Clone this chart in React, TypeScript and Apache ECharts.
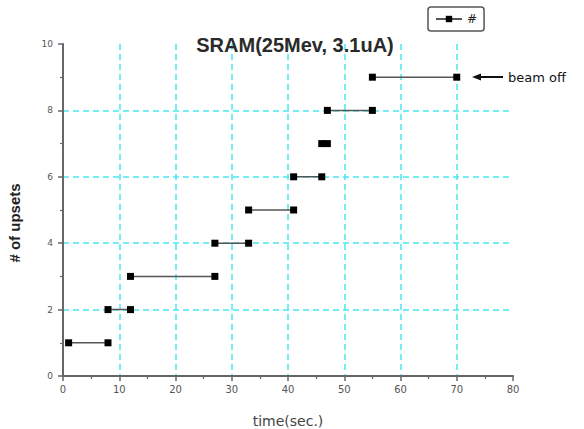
import React, { useEffect, useRef } from "react";
import * as echarts from "echarts";

const titleText = "SRAM(25Mev, 3.1uA)";
const xName = "time(sec.)";
const yName = "# of upsets";
const seriesName = "#";
const upsetLevels = [1, 2, 3, 4, 5, 6, 7, 8, 9];
const startTimes = [1, 8, 12, 27, 33, 41, 46, 47, 55];
const endTimes = [8, 12, 27, 33, 41, 46, 47, 55, 70];
const beamOffLabel = "beam off";

export default function App() {
  const ref = useRef<HTMLDivElement>(null);
  useEffect(() => {
    if (!ref.current) return;
    const chart = echarts.init(ref.current, null, { renderer: "svg" });
    const series = upsetLevels.map((lvl, i) => ({
      type: "line",
      name: seriesName,
      data: [
        [startTimes[i], lvl],
        [endTimes[i], lvl],
      ],
      symbol: "rect",
      symbolSize: 7,
      itemStyle: { color: "#000" },
      lineStyle: { color: "#555", width: 1.5 },
      z: 5,
    }));
    const axisColor = "#666";
    const gridLine = { show: true, showMinLine: false, showMaxLine: false, lineStyle: { color: "#4ae8ee", width: 1.5, type: [6, 4] } };
    chart.setOption({
      animation: false,
      backgroundColor: "#fff",
      title: {
        text: titleText,
        left: 290,
        top: 30,
        textAlign: "center",
        textStyle: { fontFamily: "Liberation Sans", fontSize: 20, fontWeight: "bold", color: "#2a2a2a" },
      },
      legend: {
        data: [seriesName],
        left: 428,
        top: 7,
        padding: [6, 7],
        borderColor: "#555",
        borderWidth: 1.5,
        borderRadius: 3,
        itemWidth: 26,
        itemHeight: 8,
        itemGap: 4,
        textStyle: { fontStyle: "italic", fontSize: 12, color: "#222", fontFamily: "DejaVu Sans" },
      },
      grid: { left: 63, right: 71, top: 44, bottom: 53, containLabel: false, outerBoundsMode: "none" },
      xAxis: {
        type: "value",
        min: 0,
        max: 80,
        interval: 10,
        name: xName,
        nameLocation: "middle",
        nameGap: 38,
        nameTextStyle: { fontFamily: "DejaVu Sans", fontSize: 14, color: "#444" },
        axisLine: { show: true, lineStyle: { color: axisColor, width: 2 } },
        axisTick: { show: true, inside: false, length: 5, lineStyle: { color: axisColor, width: 1.5 } },
        minorTick: { show: true, splitNumber: 2, length: 3, lineStyle: { color: axisColor, width: 1.2 } },
        axisLabel: { fontFamily: "DejaVu Sans", fontSize: 10, color: "#555", margin: 8 },
        splitLine: gridLine,
      },
      yAxis: {
        type: "value",
        min: 0,
        max: 10,
        interval: 2,
        axisLine: { show: true, lineStyle: { color: axisColor, width: 2 } },
        axisTick: { show: true, inside: false, length: 5, lineStyle: { color: axisColor, width: 1.5 } },
        minorTick: { show: true, splitNumber: 2, length: 3, lineStyle: { color: axisColor, width: 1.2 } },
        axisLabel: { fontFamily: "DejaVu Sans", fontSize: 9, color: "#555", margin: 10 },
        splitLine: gridLine,
      },
      graphic: [
        {
          type: "text",
          x: 14,
          y: 223,
          rotation: Math.PI / 2,
          style: {
            text: yName,
            fontFamily: "Liberation Sans",
            fontSize: 15,
            fontWeight: "bold",
            fill: "#222",
            align: "center",
            verticalAlign: "middle",
          },
        },
        {
          type: "line",
          shape: { x1: 478, y1: 77, x2: 503, y2: 77 },
          style: { stroke: "#111", lineWidth: 2 },
        },
        {
          type: "polygon",
          shape: { points: [[472, 77], [481, 73.5], [481, 80.5]] },
          style: { fill: "#111" },
        },
        {
          type: "text",
          x: 508,
          y: 77,
          style: {
            text: beamOffLabel,
            fontFamily: "DejaVu Sans",
            fontSize: 13,
            fill: "#111",
            verticalAlign: "middle",
          },
        },
      ],
      series,
    });
    return () => chart.dispose();
  }, []);
  return <div ref={ref} style={{ width: 584, height: 429, position: "absolute", left: 0, top: 0 }} />;
}
